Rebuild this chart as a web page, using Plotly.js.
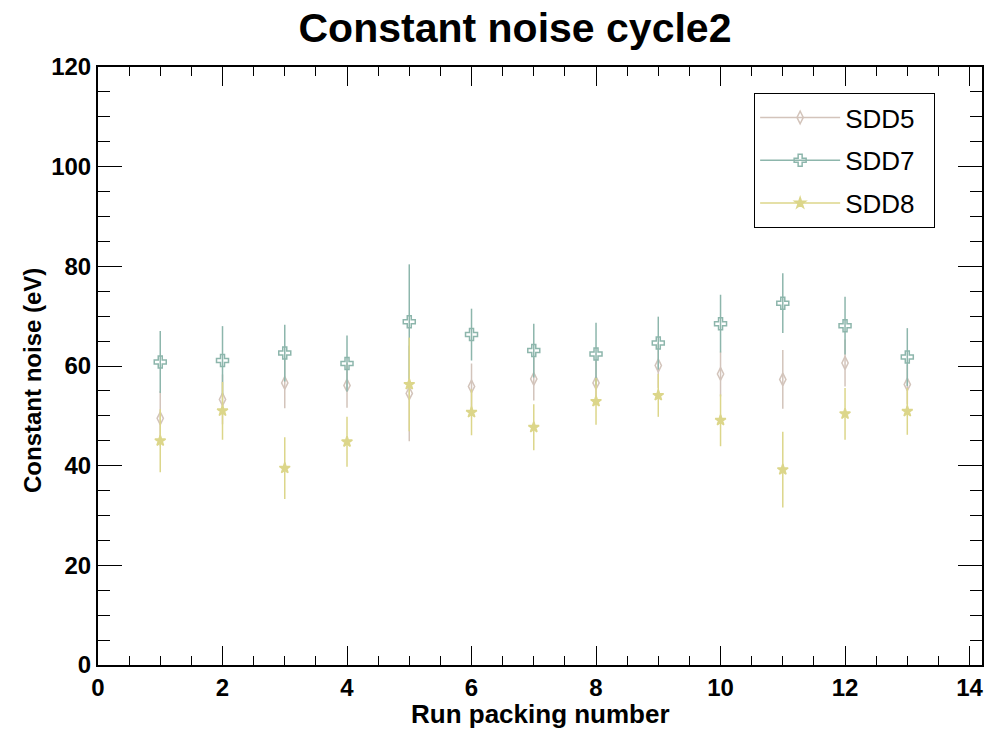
<!DOCTYPE html>
<html>
<head>
<meta charset="utf-8">
<script src="https://cdn.plot.ly/plotly-3.0.1.min.js"></script>
<style>html,body{margin:0;padding:0;background:#fff;}#chart{width:999px;height:729px;}</style>
</head>
<body>
<div id="chart"></div>
<script>
// Data
const runs = [1, 2, 3, 4, 5, 6, 7, 8, 9, 10, 11, 12, 13];

const sdd5 = [49.5, 53.3, 56.6, 56.1, 54.5, 55.9, 57.4, 56.6, 60.1, 58.4, 57.3, 60.6, 56.3];
const sdd5Err = [5.5, 5.0, 5.1, 4.5, 9.6, 4.6, 4.3, 4.5, 4.5, 4.5, 5.9, 4.7, 4.0];

const sdd7 = [60.8, 61.1, 62.6, 60.5, 68.9, 66.3, 63.1, 62.4, 64.6, 68.5, 72.6, 68.1, 61.8];
const sdd7Err = [6.2, 6.9, 5.7, 5.6, 11.5, 5.2, 5.4, 6.3, 5.3, 5.8, 6.0, 5.8, 5.8];

const sdd8 = [45.0, 51.0, 39.5, 44.8, 56.3, 50.7, 47.7, 52.9, 54.1, 49.1, 39.2, 50.4, 50.9];
const sdd8Err = [6.3, 5.8, 6.2, 5.0, 9.4, 4.6, 4.6, 4.7, 4.3, 5.2, 7.6, 5.2, 4.7];

const seriesNames = ["SDD5", "SDD7", "SDD8"];
const xTickVals = [0, 2, 4, 6, 8, 10, 12, 14];
const yTickVals = [0, 20, 40, 60, 80, 100, 120];

const cBeige = "#d3c4bb";
const cTeal = "#8db6ac";
const cYellow = "#dcd68a";

const FONT = "Liberation Sans, Arial, Helvetica, sans-serif";
const PAD = "\u00a0\u00a0";

function dataTrace(name, y, err, color, symbol, size) {
  return {
    type: "scatter", mode: "markers", name: name, x: runs, y: y,
    showlegend: false,
    marker: {symbol: symbol, size: size, color: color, line: {color: color, width: 1.5}},
    error_y: {type: "data", array: err, visible: true, color: color, thickness: 1.5, width: 0}
  };
}
function legendTrace(name, color, symbol, size) {
  return {
    type: "scatter", mode: "lines+markers", name: name + PAD, x: [null], y: [null],
    legendgroup: name, showlegend: true,
    line: {color: color, width: 1.5},
    marker: {symbol: symbol, size: size, color: color, line: {color: color, width: 1.5}}
  };
}

const traces = [
  dataTrace(seriesNames[0], sdd5, sdd5Err, cBeige, "diamond-tall-open", 9),
  dataTrace(seriesNames[1], sdd7, sdd7Err, cTeal, "cross-open", 10),
  dataTrace(seriesNames[2], sdd8, sdd8Err, cYellow, "star", 8),
  legendTrace(seriesNames[0], cBeige, "diamond-tall-open", 9),
  legendTrace(seriesNames[1], cTeal, "cross-open", 10),
  legendTrace(seriesNames[2], cYellow, "star", 8)
];

const axisCommon = {
  showgrid: false, zeroline: false, showline: true, linecolor: "#000", linewidth: 2,
  mirror: "ticks", ticks: "inside", tickcolor: "#000", tickwidth: 1,
  tickfont: {family: FONT, size: 24, color: "#000", weight: "bold"}
};

const layout = {
  width: 999, height: 729,
  paper_bgcolor: "#fff", plot_bgcolor: "#fff",
  margin: {l: 98, r: 17, t: 67, b: 64},
  title: {
    text: "Constant noise cycle2",
    font: {family: FONT, size: 41, color: "#000", weight: "bold"},
    x: 0.5155, xref: "container", xanchor: "center",
    y: 1 - 28 / 729, yref: "container", yanchor: "middle"
  },
  xaxis: Object.assign({}, axisCommon, {
    range: [0, 14.2], tickvals: xTickVals, ticklen: 19,
    minor: {ticks: "inside", dtick: 0.5, tick0: 0, ticklen: 9, tickcolor: "#000", tickwidth: 1, showgrid: false}
  }),
  yaxis: Object.assign({}, axisCommon, {
    range: [0, 120], tickvals: yTickVals, ticklen: 24,
    minor: {ticks: "inside", dtick: 5, tick0: 0, ticklen: 12, tickcolor: "#000", tickwidth: 1, showgrid: false}
  }),
  annotations: [
    {text: "Run packing number", xref: "paper", yref: "paper",
     x: 0.5, y: (665 - 714) / 598, xanchor: "center", yanchor: "middle", showarrow: false,
     font: {family: FONT, size: 26, color: "#000", weight: "bold"}},
    {text: "Constant noise (eV)", xref: "paper", yref: "paper", textangle: -90,
     x: (32 - 98) / 884, y: (665 - 381) / 598, xanchor: "center", yanchor: "middle", showarrow: false,
     font: {family: FONT, size: 24, color: "#000", weight: "bold"}}
  ],
  legend: {
    x: 0.947, xanchor: "right", y: 0.9565, yanchor: "top",
    bgcolor: "#fff", bordercolor: "#000", borderwidth: 1,
    font: {family: FONT, size: 26, color: "#000"},
    tracegroupgap: 6, itemwidth: 80
  },
  showlegend: true
};

Plotly.newPlot("chart", traces, layout, {displayModeBar: false, staticPlot: true});
</script>
</body>
</html>
